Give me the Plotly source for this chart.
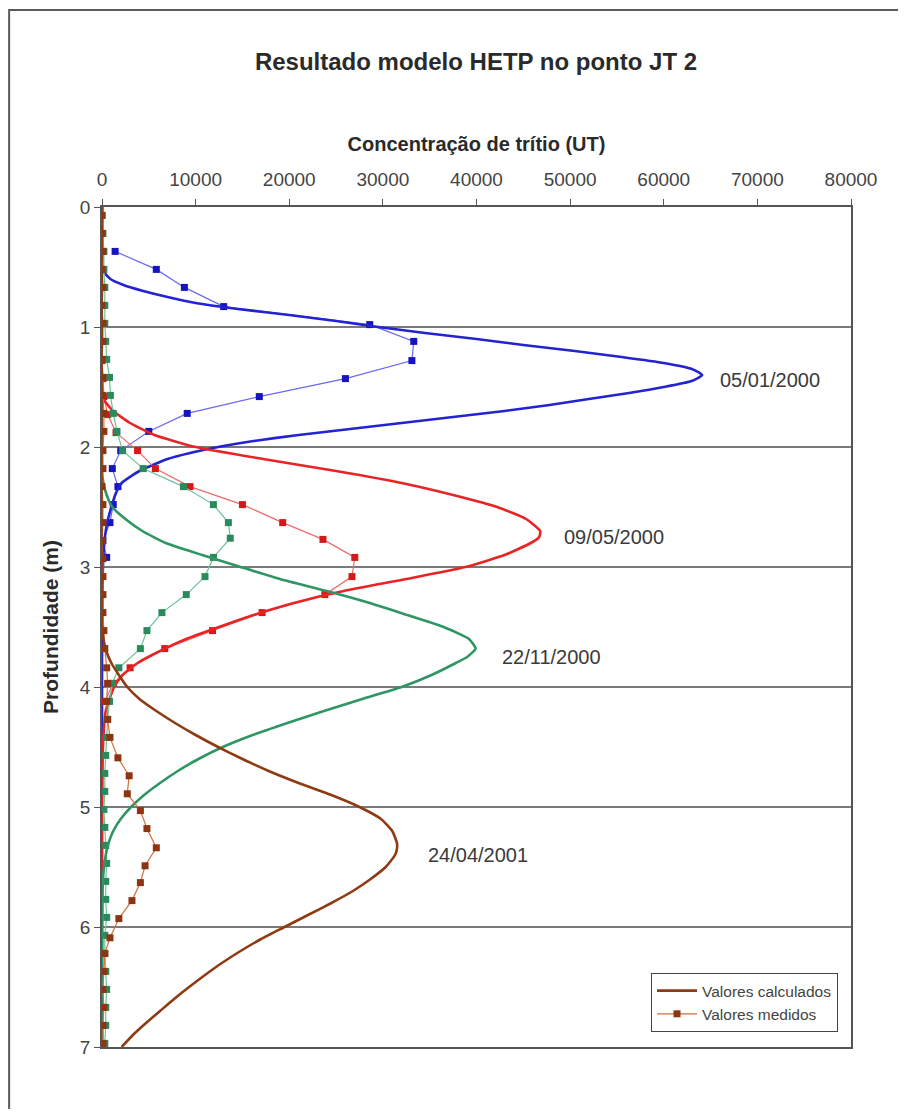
import plotly.graph_objects as go

# ---------------- data ----------------
# Calculated (model) profiles: depth (m) and concentration (UT)
calc_0501_depth = [0, 0.3, 0.5, 0.55, 0.6, 0.65, 0.7, 0.75, 0.8, 0.85, 0.9, 0.95, 1.0, 1.05, 1.1, 1.15, 1.2, 1.25, 1.3, 1.35, 1.4, 1.45, 1.5, 1.55, 1.6, 1.65, 1.7, 1.75, 1.8, 1.85, 1.9, 1.95, 2.0, 2.05, 2.1, 2.2, 2.3, 2.4, 2.5, 2.6, 2.7, 2.8, 3.0, 3.3, 3.8, 4.5]
calc_0501_conc = [0, 0, 0, 300, 900, 2300, 4400, 7000, 10000, 14500, 20000, 25000, 29500, 34500, 40000, 45000, 50500, 55500, 60000, 63000, 64100, 63000, 60000, 56300, 52000, 47800, 43000, 37500, 32000, 26500, 21000, 16200, 12400, 9400, 7000, 4000, 2100, 1400, 1000, 650, 400, 250, 100, 30, 0, 0]

calc_0905_depth = [0, 1.5, 1.6, 1.7, 1.8, 1.9, 2.0, 2.1, 2.2, 2.3, 2.4, 2.5, 2.6, 2.7, 2.75, 2.8, 2.9, 3.0, 3.1, 3.2, 3.3, 3.4, 3.5, 3.6, 3.7, 3.8, 3.9, 4.0, 4.2, 4.5, 5.0, 7.0]
calc_0905_conc = [0, 0, 150, 1200, 3000, 5600, 10000, 17200, 25000, 32000, 37500, 42200, 45300, 46800, 46700, 45800, 43000, 38800, 32500, 25800, 20500, 16200, 12500, 9000, 6200, 3800, 2200, 1300, 400, 100, 20, 0]

calc_2211_depth = [0, 2.2, 2.3, 2.4, 2.5, 2.6, 2.7, 2.8, 2.9, 3.0, 3.1, 3.2, 3.3, 3.4, 3.5, 3.6, 3.68, 3.75, 3.8, 3.9, 4.0, 4.1, 4.2, 4.3, 4.4, 4.5, 4.6, 4.7, 4.8, 4.9, 5.0, 5.1, 5.2, 5.3, 5.4, 5.6, 6.0, 7.0]
calc_2211_conc = [0, 0, 150, 500, 1100, 2500, 4300, 6800, 10700, 14800, 19000, 24000, 28600, 32600, 36500, 39200, 39900, 39000, 37800, 35200, 32000, 27800, 23700, 19800, 16100, 12900, 10300, 8100, 6200, 4500, 3100, 2000, 1200, 700, 400, 100, 0, 0]

calc_2404_depth = [0, 3.5, 3.6, 3.7, 3.8, 3.9, 4.0, 4.1, 4.2, 4.3, 4.4, 4.5, 4.6, 4.7, 4.8, 4.9, 5.0, 5.1, 5.2, 5.3, 5.35, 5.4, 5.5, 5.6, 5.7, 5.8, 5.9, 6.0, 6.1, 6.2, 6.3, 6.4, 6.5, 6.6, 6.7, 6.8, 6.9, 7.0]
calc_2404_conc = [0, 0, 150, 450, 1000, 1800, 2700, 4000, 5800, 7800, 10000, 12400, 15000, 17800, 21000, 24500, 27500, 29800, 31000, 31500, 31500, 31300, 30300, 28700, 26800, 24500, 22000, 19500, 17000, 14800, 12800, 11000, 9300, 7700, 6200, 4700, 3300, 2100]

# Measured profiles
meas_0501_depth = [0.37, 0.52, 0.67, 0.83, 0.98, 1.12, 1.28, 1.43, 1.58, 1.72, 1.87, 2.03, 2.18, 2.33, 2.48, 2.63, 2.78, 2.92]
meas_0501_conc = [1400, 5800, 8800, 13000, 28600, 33300, 33100, 26000, 16800, 9100, 5000, 2000, 1100, 1700, 1200, 850, 100, 500]

meas_0905_depth = [1.28, 1.43, 1.58, 1.73, 1.88, 2.03, 2.18, 2.33, 2.48, 2.63, 2.77, 2.92, 3.08, 3.23, 3.38, 3.53, 3.68, 3.84, 3.97, 4.12]
meas_0905_conc = [0, 100, 200, 600, 1500, 3800, 5700, 9400, 15000, 19300, 23600, 27000, 26700, 23800, 17100, 11800, 6700, 3000, 1200, 300]

meas_2211_depth = [0.07, 0.22, 0.37, 0.52, 0.67, 0.82, 0.97, 1.12, 1.27, 1.42, 1.57, 1.72, 1.87, 2.03, 2.18, 2.33, 2.48, 2.63, 2.76, 2.92, 3.08, 3.23, 3.38, 3.53, 3.68, 3.84, 3.97, 4.12, 4.27, 4.42, 4.57, 4.72, 4.87, 5.02, 5.17, 5.32, 5.47, 5.62, 5.77, 5.92, 6.07, 6.22, 6.37, 6.52, 6.67, 6.82, 6.97]
meas_2211_conc = [0, 100, 200, 200, 300, 300, 300, 400, 500, 800, 900, 1200, 1600, 2200, 4400, 8700, 11900, 13500, 13700, 11900, 11000, 9000, 6400, 4800, 4100, 1800, 1100, 800, 600, 500, 400, 300, 300, 200, 300, 400, 500, 400, 400, 500, 300, 300, 400, 500, 400, 400, 300]

meas_2404_depth = [0.07, 0.22, 0.37, 0.52, 0.67, 0.82, 0.97, 1.12, 1.27, 1.42, 1.57, 1.72, 1.87, 2.03, 2.18, 2.33, 2.48, 2.63, 2.78, 2.93, 3.08, 3.23, 3.38, 3.53, 3.68, 3.84, 3.97, 4.12, 4.27, 4.42, 4.59, 4.74, 4.89, 5.03, 5.18, 5.34, 5.49, 5.63, 5.78, 5.93, 6.09, 6.22, 6.37, 6.52, 6.67, 6.82, 6.97]
meas_2404_conc = [0, 0, 100, 0, 100, 0, 100, 100, 0, 100, 100, 200, 200, 100, 100, 0, 100, 100, 0, 100, 100, 100, 100, 200, 300, 500, 600, 500, 600, 850, 1700, 2900, 2700, 4100, 4800, 5800, 4600, 4100, 3200, 1800, 850, 300, 200, 100, 200, 100, 100]

date_labels = ["05/01/2000", "09/05/2000", "22/11/2000", "24/04/2001"]
label_conc = [65800, 49100, 42500, 34600]
label_depth = [1.44, 2.75, 3.75, 5.40]

x_ticks = [0, 10000, 20000, 30000, 40000, 50000, 60000, 70000, 80000]
y_ticks = [0, 1, 2, 3, 4, 5, 6, 7]

# ---------------- styling ----------------
FONT = "Arial, 'Liberation Sans', sans-serif"
calc_colors = ["#2323d2", "#e82424", "#2f9565", "#8e3a12"]
meas_line_colors = ["#6a6af0", "#f06a6a", "#6cc39a", "#d0703a"]
meas_marker_colors = ["#1414c0", "#d81818", "#2a8a5c", "#8e3412"]

calc_sets = [
    (calc_0501_depth, calc_0501_conc),
    (calc_0905_depth, calc_0905_conc),
    (calc_2211_depth, calc_2211_conc),
    (calc_2404_depth, calc_2404_conc),
]
meas_sets = [
    (meas_0501_depth, meas_0501_conc),
    (meas_0905_depth, meas_0905_conc),
    (meas_2211_depth, meas_2211_conc),
    (meas_2404_depth, meas_2404_conc),
]

fig = go.Figure()

for i in range(4):
    d, c = meas_sets[i]
    fig.add_trace(go.Scatter(
        x=c, y=d, mode="lines+markers",
        line=dict(color=meas_line_colors[i], width=1.2),
        marker=dict(symbol="square", size=7, color=meas_marker_colors[i]),
        name="Valores medidos", showlegend=(i == 3),
        legendrank=2,
    ))
    d, c = calc_sets[i]
    fig.add_trace(go.Scatter(
        x=c, y=d, mode="lines",
        line=dict(color=calc_colors[i], width=2.6, shape="spline", smoothing=0.5),
        name="Valores calculados", showlegend=(i == 3),
        legendrank=1,
    ))

for lab, xv, yv in zip(date_labels, label_conc, label_depth):
    fig.add_annotation(x=xv, y=yv, text=lab, showarrow=False, xanchor="left",
                       yanchor="middle", font=dict(family=FONT, size=20, color="#3a3a3a"))

# outer frame (right and bottom edges fall outside the canvas, as in the original)
fig.add_shape(type="rect", xref="paper", yref="paper",
              x0=-0.124, x1=1.08, y0=-0.09, y1=1.2345,
              line=dict(color="#5a5a5a", width=2), layer="below")

fig.update_layout(
    width=890, height=1101,
    margin=dict(l=94, r=47, t=199, b=62),
    paper_bgcolor="white", plot_bgcolor="white",
    font=dict(family=FONT, color="#333333"),
    title=dict(text="<b>Resultado modelo HETP no ponto JT 2</b>",
               x=(476 - 8) / 890, xanchor="center", xref="container",
               y=1 - (62 - 8) / 1101, yanchor="middle", yref="container",
               font=dict(family=FONT, size=24, color="#2a2a2a")),
    showlegend=True,
    legend=dict(x=0.733, y=0.088, xanchor="left", yanchor="top",
                bgcolor="white", bordercolor="#444444", borderwidth=1,
                font=dict(family=FONT, size=15.5, color="#444444"),
                traceorder="normal", itemwidth=40, tracegroupgap=0),
)

fig.update_xaxes(
    side="top", range=[0, 80000], tickvals=x_ticks,
    ticktext=[str(v) for v in x_ticks],
    ticks="outside", ticklen=6, tickcolor="#555555", ticklabelstandoff=6,
    showline=True, linecolor="#555555", linewidth=1.5, mirror=True,
    showgrid=False, zeroline=False,
    tickfont=dict(family=FONT, size=19, color="#444444"),
    title=dict(text="<b>Concentração de trítio (UT)</b>", standoff=12,
               font=dict(family=FONT, size=20, color="#2a2a2a")),
)
fig.update_yaxes(
    range=[7, 0], tickvals=y_ticks,
    ticks="outside", ticklen=6, tickcolor="#555555",
    showline=True, linecolor="#555555", linewidth=1.5, mirror=True,
    showgrid=True, gridcolor="#7a7a7a", gridwidth=1.6, zeroline=False,
    tickfont=dict(family=FONT, size=19, color="#444444"),
    title=dict(text="<b>Profundidade (m)</b>", standoff=16,
               font=dict(family=FONT, size=21, color="#2a2a2a")),
)

fig.write_html("out.html")
